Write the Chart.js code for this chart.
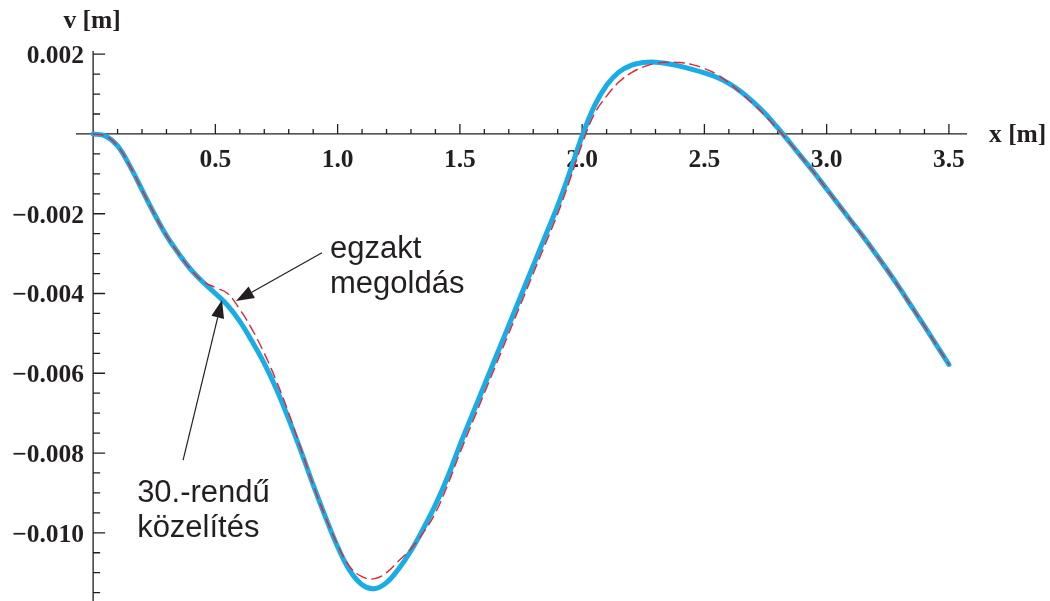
<!DOCTYPE html>
<html>
<head>
<meta charset="utf-8">
<script src="https://cdn.jsdelivr.net/npm/chart.js@4.4.1/dist/chart.umd.min.js"></script>
<style>
  body { margin: 0; background: #fff; }
  canvas { display: block; }
</style>
</head>
<body>
<canvas id="beam" width="1050" height="601"></canvas>
<script>
// deflection along the beam, sampled every 0.05 m
var xs = [0, 0.05, 0.1, 0.15, 0.2, 0.25, 0.3, 0.35, 0.4, 0.45, 0.5, 0.55, 0.6, 0.65, 0.7, 0.75, 0.8, 0.85, 0.9, 0.95,
    1.0, 1.05, 1.1, 1.15, 1.2, 1.25, 1.3, 1.35, 1.4, 1.45, 1.5, 1.55, 1.6, 1.65, 1.7, 1.75, 1.8, 1.85, 1.9, 1.95,
    2.0, 2.05, 2.1, 2.15, 2.2, 2.25, 2.3, 2.35, 2.4, 2.45, 2.5, 2.55, 2.6, 2.65, 2.7, 2.75, 2.8, 2.85, 2.9, 2.95,
    3.0, 3.05, 3.1, 3.15, 3.2, 3.25, 3.3, 3.35, 3.4, 3.45, 3.5];

// 30th order approximation (solid)
var approx = [0, -0.00005, -0.0003, -0.0008, -0.0014, -0.0020, -0.00255, -0.0030, -0.0034, -0.00372,
    -0.0040, -0.0043, -0.0047, -0.0052, -0.00575, -0.0064, -0.00715, -0.00795, -0.0088, -0.0096,
    -0.01035, -0.01095, -0.0113, -0.0114, -0.01125, -0.0109, -0.01045, -0.0099, -0.0093, -0.0086,
    -0.0078, -0.00705, -0.0063, -0.00555, -0.0048, -0.00405, -0.0033, -0.00255, -0.0018, -0.00095,
    -0.00005, 0.0007, 0.00122, 0.00155, 0.00172, 0.00179, 0.0018, 0.00176, 0.0017, 0.00162,
    0.00153, 0.00142, 0.00127, 0.00106, 0.0008, 0.0005, 0.00015, -0.00022, -0.0006, -0.00098,
    -0.00138, -0.00178, -0.00218, -0.00258, -0.003, -0.00343, -0.00388, -0.00435, -0.00482, -0.0053,
    -0.00578];

// exact solution (dashed)
var exact = [0, -0.00005, -0.0003, -0.0008, -0.0014, -0.0020, -0.00255, -0.0030, -0.0034, -0.0037,
    -0.00385, -0.0040, -0.0044, -0.0049, -0.0055, -0.0062, -0.0070, -0.0079, -0.0088, -0.0096,
    -0.0103, -0.01085, -0.0111, -0.01115, -0.0110, -0.0107, -0.0104, -0.0100, -0.0095, -0.0088,
    -0.0080, -0.00725, -0.0065, -0.00575, -0.0050, -0.00425, -0.0035, -0.00275, -0.0020, -0.00115,
    -0.00025, 0.0005, 0.00095, 0.0013, 0.00153, 0.00168, 0.00177, 0.0018, 0.00179, 0.00174,
    0.00164, 0.0015, 0.00128, 0.00102, 0.00075, 0.00045, 0.00012, -0.00023, -0.0006, -0.00098,
    -0.00138, -0.00178, -0.00218, -0.00258, -0.003, -0.00343, -0.00388, -0.00435, -0.00482, -0.0053,
    -0.00578];

var xTicks = [0.5, 1.0, 1.5, 2.0, 2.5, 3.0, 3.5];
var xTickLabels = ['0.5', '1.0', '1.5', '2.0', '2.5', '3.0', '3.5'];
var yTicks = [0.002, -0.002, -0.004, -0.006, -0.008, -0.010];
var yTickLabels = ['0.002', '\u22120.002', '\u22120.004', '\u22120.006', '\u22120.008', '\u22120.010'];

function points(ys) {
    return xs.map(function (x, i) { return { x: x, y: ys[i] }; });
}

var ink = '#231f20';

// axes through the origin with inward ticks
var axesPlugin = {
    id: 'axesThroughOrigin',
    beforeDatasetsDraw: function (chart) {
        var ctx = chart.ctx, sx = chart.scales.x, sy = chart.scales.y;
        var x0 = sx.getPixelForValue(0), y0 = sy.getPixelForValue(0);
        var i, p;
        ctx.save();
        ctx.strokeStyle = ink;
        ctx.lineWidth = 1.3;
        ctx.beginPath();
        ctx.moveTo(sx.left, y0); ctx.lineTo(sx.right, y0);
        ctx.moveTo(x0, sy.top); ctx.lineTo(x0, sy.bottom);
        // x ticks every 0.1, longer every 0.5
        for (i = 1; i <= 35; i++) {
            p = sx.getPixelForValue(i / 10);
            ctx.moveTo(p, y0);
            ctx.lineTo(p, y0 - (i % 5 === 0 ? 10 : 5));
        }
        // y ticks every 0.0005, longer every 0.002
        for (i = -23; i <= 4; i++) {
            if (i === 0) continue;
            p = sy.getPixelForValue(i * 0.0005);
            ctx.moveTo(x0, p);
            ctx.lineTo(x0 + (i % 4 === 0 ? 12 : 7), p);
        }
        ctx.stroke();

        ctx.fillStyle = ink;
        ctx.font = 'bold 25.5px "Liberation Serif"';
        ctx.textBaseline = 'alphabetic';
        ctx.textAlign = 'center';
        xTicks.forEach(function (v, k) {
            ctx.fillText(xTickLabels[k], sx.getPixelForValue(v), y0 + 33);
        });
        ctx.textAlign = 'right';
        yTicks.forEach(function (v, k) {
            ctx.fillText(yTickLabels[k], x0 - 9, sy.getPixelForValue(v) + 9);
        });
        ctx.textAlign = 'center';
        ctx.fillText('v [m]', x0 - 1, 28);
        ctx.textAlign = 'left';
        ctx.fillText('x [m]', sx.right + 22, y0 + 8);
        ctx.restore();
    }
};

// callout labels with arrows, placed in data units
var notes = [
    { lines: ['egzakt', 'megold\u00e1s'], tx: 0.969, ty: -0.00311, from: [0.936, -0.00298], to: [0.5845, -0.00419] },
    { lines: ['30.-rend\u0171', 'k\u00f6zel\u00edt\u00e9s'], tx: 0.18, ty: -0.00923, from: [0.368, -0.00818], to: [0.527, -0.00416] }
];

var notesPlugin = {
    id: 'callouts',
    afterDatasetsDraw: function (chart) {
        var ctx = chart.ctx, sx = chart.scales.x, sy = chart.scales.y;
        ctx.save();
        ctx.fillStyle = ink;
        ctx.strokeStyle = ink;
        ctx.font = '31px "Liberation Sans"';
        ctx.textAlign = 'left';
        ctx.textBaseline = 'alphabetic';
        notes.forEach(function (n) {
            var tx = sx.getPixelForValue(n.tx), ty = sy.getPixelForValue(n.ty);
            n.lines.forEach(function (s, k) { ctx.fillText(s, tx, ty + k * 35); });

            var ax = sx.getPixelForValue(n.from[0]), ay = sy.getPixelForValue(n.from[1]);
            var bx = sx.getPixelForValue(n.to[0]), by = sy.getPixelForValue(n.to[1]);
            var ang = Math.atan2(by - ay, bx - ax), len = 18, half = 6.5;
            var hx = bx - len * Math.cos(ang), hy = by - len * Math.sin(ang);
            ctx.lineWidth = 1.2;
            ctx.beginPath();
            ctx.moveTo(ax, ay); ctx.lineTo(hx, hy);
            ctx.stroke();
            ctx.beginPath();
            ctx.moveTo(bx, by);
            ctx.lineTo(hx + half * Math.sin(ang), hy - half * Math.cos(ang));
            ctx.lineTo(hx - half * Math.sin(ang), hy + half * Math.cos(ang));
            ctx.closePath();
            ctx.fill();
        });
        ctx.restore();
    }
};

new Chart(document.getElementById('beam'), {
    type: 'line',
    data: {
        datasets: [{
            label: 'egzakt megold\u00e1s',
            data: points(exact),
            borderColor: '#e8232e',
            borderWidth: 1.4,
            borderDash: [10, 6],
            pointRadius: 0,
            tension: 0.4,
            order: 0
        }, {
            label: '30.-rend\u0171 k\u00f6zel\u00edt\u00e9s',
            data: points(approx),
            borderColor: '#19ace6',
            borderWidth: 5,
            pointRadius: 0,
            tension: 0.4,
            order: 1
        }]
    },
    options: {
        responsive: false,
        animation: false,
        devicePixelRatio: 1,
        layout: { padding: { left: 76, right: 83, top: 51, bottom: 0 } },
        plugins: { legend: { display: false }, tooltip: { enabled: false } },
        scales: {
            x: { type: 'linear', min: -0.07, max: 3.574, display: false },
            y: { type: 'linear', min: -0.01171, max: 0.00208, display: false }
        },
        elements: { line: { borderCapStyle: 'round', borderJoinStyle: 'round' } }
    },
    plugins: [axesPlugin, notesPlugin]
});
</script>
</body>
</html>
